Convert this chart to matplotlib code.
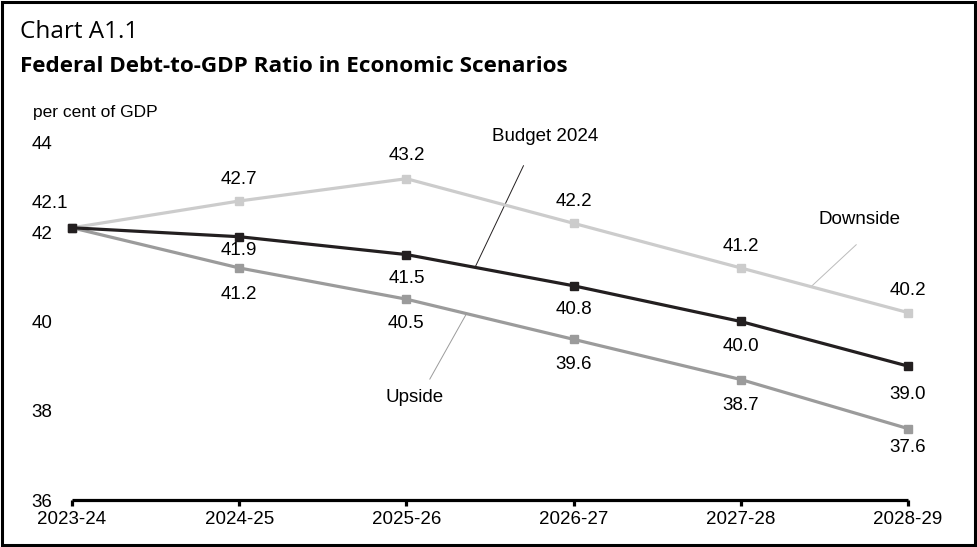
import matplotlib
matplotlib.use('Agg')
import matplotlib.pyplot as plt
from matplotlib.patches import Rectangle

# Fiscal years and debt-to-GDP ratios (per cent)
YEARS = ['2023-24', '2024-25', '2025-26', '2026-27', '2027-28', '2028-29']
BUDGET = [42.1, 41.9, 41.5, 40.8, 40.0, 39.0]
DOWNSIDE = [42.1, 42.7, 43.2, 42.2, 41.2, 40.2]
UPSIDE = [42.1, 41.2, 40.5, 39.6, 38.7, 37.6]
Y_TICKS = [36, 38, 40, 42, 44]

plt.rcParams['font.family'] = ['Liberation Sans', 'DejaVu Sans']
FS = 13.5

figure = plt.figure(figsize=(9.77, 5.47), dpi=100)
ax = figure.add_axes([0.0737, 0.0859, 0.8557, 0.6527])

x = range(len(YEARS))

# Series: (values, colour, label offsets in pixels)
series = [
    (UPSIDE, '#9b9b9b', [0, -27, -24, -25, -26, -19]),
    (DOWNSIDE, '#cccccc', [0, 22, 23, 22, 21, 22]),
    (BUDGET, '#231f20', [0, -14, -24, -24, -25, -28]),
]
for values, color, offsets in series:
    ax.plot(x, values, color=color, lw=2.3, marker='s', markersize=5.5,
            clip_on=False, zorder=3)
    for i, v in enumerate(values):
        if i == 0:
            continue
        ax.annotate('{:.1f}'.format(v), (i, v), textcoords='offset pixels',
                    xytext=(0, offsets[i]), ha='center', va='center', fontsize=FS)

# Shared starting point label
ax.annotate('{:.1f}'.format(BUDGET[0]), (0, BUDGET[0]), textcoords='offset pixels',
            xytext=(-22, 24), ha='center', va='center', fontsize=FS)

# Series name leader lines
ax.plot([2.41, 2.70], [41.21, 43.49], color='#231f20', lw=0.7)
ax.text(2.83, 44.14, 'Budget 2024', ha='center', va='center', fontsize=FS)
ax.plot([4.42, 4.69], [40.78, 41.72], color='#bbbbbb', lw=0.7)
ax.text(4.71, 42.28, 'Downside', ha='center', va='center', fontsize=FS)
ax.plot([2.36, 2.14], [40.18, 38.71], color='#9b9b9b', lw=0.7)
ax.text(2.05, 38.29, 'Upside', ha='center', va='center', fontsize=FS)

# Axis formatting
ax.set_xlim(0, len(YEARS) - 1)
ax.set_ylim(36, 44)
ax.set_xticks(list(x))
ax.set_xticklabels(YEARS, fontsize=FS)
ax.set_yticks(Y_TICKS)
ax.set_yticklabels([str(t) for t in Y_TICKS], fontsize=FS)
for side in ['top', 'right', 'left']:
    ax.spines[side].set_visible(False)
ax.spines['bottom'].set_linewidth(2.3)
ax.spines['bottom'].set_capstyle('butt')
ax.tick_params(axis='x', direction='out', length=4, width=2.3, pad=4)
ax.tick_params(axis='y', length=0, pad=14)

# Titles
figure.text(20 / 977, 1 - 32 / 547, 'Chart A1.1', fontsize=17.5,
            family=['Open Sans', 'DejaVu Sans'], va='center')
figure.text(20 / 977, 1 - 67 / 547, 'Federal Debt-to-GDP Ratio in Economic Scenarios',
            fontsize=16.2, family=['Open Sans', 'DejaVu Sans'], fontweight='bold', va='center')
figure.text(33 / 977, 1 - 112 / 547, 'per cent of GDP', fontsize=12.5, va='center')

# Frame around the chart
figure.patches.append(Rectangle((0.002, 0.003), 0.996, 0.994, transform=figure.transFigure,
                                fill=False, edgecolor='black', lw=2.2))

plt.savefig('out.png', dpi=100)
plt.close()
